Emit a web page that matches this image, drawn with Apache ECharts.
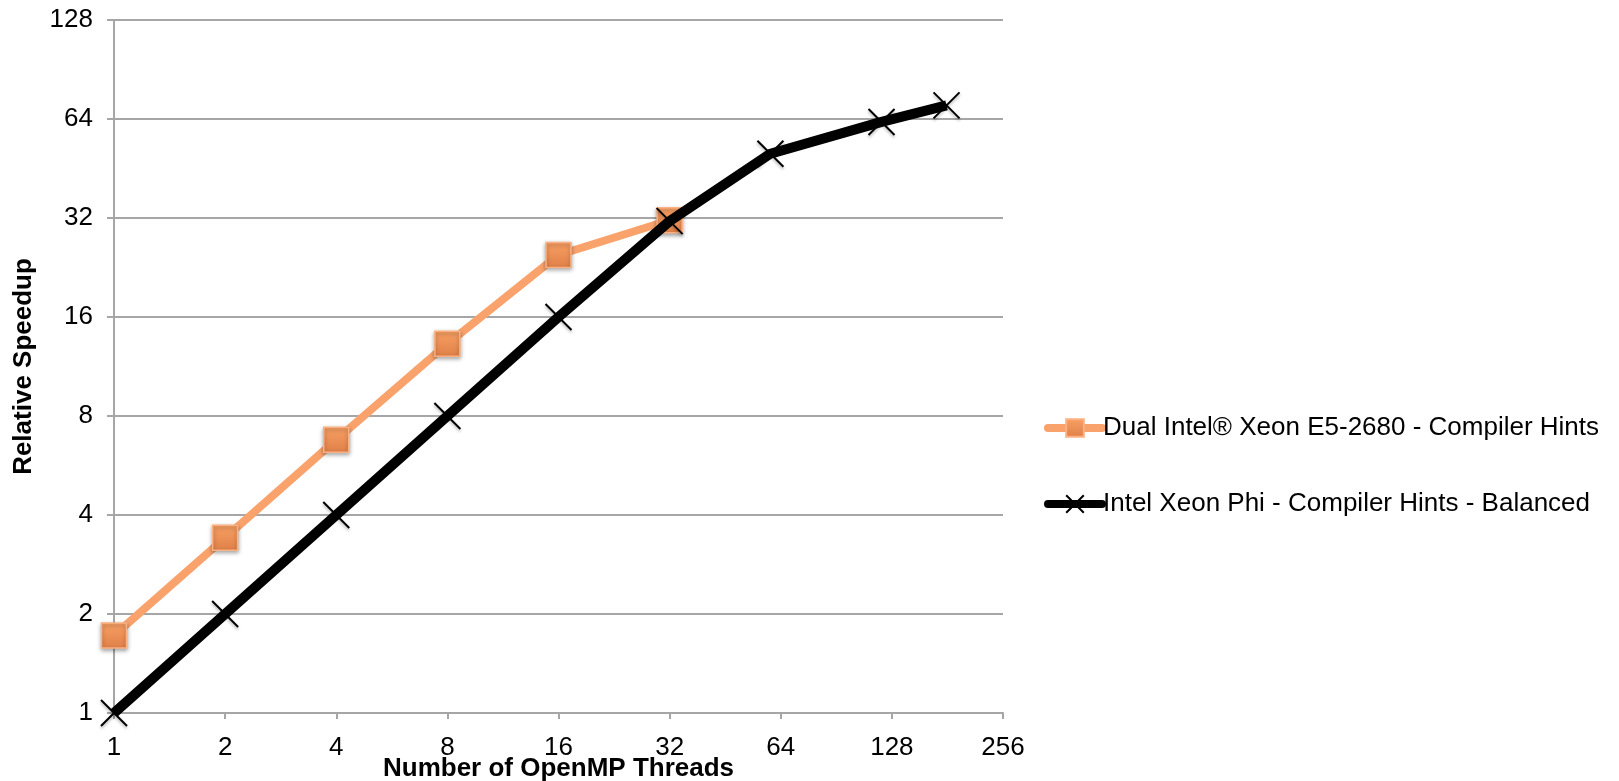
<!DOCTYPE html>
<html>
<head>
<meta charset="utf-8">
<script src="https://cdn.jsdelivr.net/npm/echarts@6/dist/echarts.min.js"></script>
<style>html,body{margin:0;padding:0;background:#fff}#c{width:1619px;height:781px}</style>
</head>
<body>
<div id="c"></div>
<script>
const xeonName = 'Dual Intel® Xeon E5-2680 - Compiler Hints';
const phiName = 'Intel Xeon Phi - Compiler Hints - Balanced';
const xeonThreads = [1, 2, 4, 8, 16, 32];
const xeonSpeedup = [1.72, 3.41, 6.77, 13.26, 24.7, 31.5];
const phiThreads = [1, 2, 4, 8, 16, 32, 60, 120, 180];
const phiSpeedup = [1, 2, 4, 8, 16, 31.3, 50.2, 62.7, 70.4];
const xTitle = 'Number of OpenMP Threads';
const yTitle = 'Relative Speedup';

const font = 'Liberation Sans, Arial, sans-serif';
const chart = echarts.init(document.getElementById('c'));
chart.setOption({
  animation: false,
  backgroundColor: '#fff',
  grid: { left: 114, right: 616, top: 20, bottom: 68, containLabel: false, outerBoundsMode: 'none' },
  legend: {
    orient: 'vertical',
    left: 1039,
    top: 410,
    itemWidth: 54,
    itemHeight: 22,
    itemGap: 50,
    lineStyle: { width: 8, cap: 'round' },
    textStyle: { fontFamily: font, fontSize: 26, color: '#000', padding: [0, 0, 0, -4] },
    data: [xeonName, phiName]
  },
  xAxis: {
    type: 'log', logBase: 2, min: 1, max: 256, splitNumber: 8,
    name: xTitle, nameLocation: 'middle', nameGap: 43, nameMoveOverlap: false,
    nameTextStyle: { fontFamily: font, fontSize: 26, fontWeight: 'bold', color: '#000' },
    axisLine: { lineStyle: { color: '#a6a6a6', width: 2 } },
    axisTick: { show: true, length: 6, lineStyle: { color: '#a6a6a6', width: 2 } },
    axisLabel: { fontFamily: font, fontSize: 26, color: '#000', margin: 22 },
    splitLine: { show: false }
  },
  yAxis: {
    type: 'log', logBase: 2, min: 1, max: 128, splitNumber: 7,
    name: yTitle, nameLocation: 'middle', nameGap: 77, nameRotate: 90, nameMoveOverlap: false,
    nameTextStyle: { fontFamily: font, fontSize: 26, fontWeight: 'bold', color: '#000' },
    axisLine: { show: true, lineStyle: { color: '#a6a6a6', width: 2 } },
    axisTick: { show: true, length: 7, lineStyle: { color: '#a6a6a6', width: 2 } },
    axisLabel: { fontFamily: font, fontSize: 26, color: '#000', margin: 21 },
    splitLine: { show: true, lineStyle: { color: '#a6a6a6', width: 2 } }
  },
  series: [
    {
      name: xeonName,
      type: 'line',
      data: xeonThreads.map((t, i) => [t, xeonSpeedup[i]]),
      symbol: 'rect',
      symbolSize: 25,
      z: 2,
      lineStyle: { color: '#f9a26c', width: 8 },
      itemStyle: {
        color: new echarts.graphic.LinearGradient(0, 0, 0, 1, [
          { offset: 0, color: '#f8a064' }, { offset: 1, color: '#df8048' }
        ]),
        borderColor: '#fbb182', borderWidth: 1.5,
        shadowColor: 'rgba(0,0,0,0.35)', shadowBlur: 4, shadowOffsetY: 2
      }
    },
    {
      name: phiName,
      type: 'line',
      data: phiThreads.map((t, i) => [t, phiSpeedup[i]]),
      symbol: 'path://M0,0L10,10M10,0L0,10',
      symbolSize: 26,
      z: 3,
      lineStyle: { color: '#000', width: 10 },
      itemStyle: {
        color: 'none', borderColor: '#000', borderWidth: 2,
        shadowColor: 'rgba(0,0,0,0.3)', shadowBlur: 3, shadowOffsetY: 2
      }
    }
  ]
});
</script>
</body>
</html>
